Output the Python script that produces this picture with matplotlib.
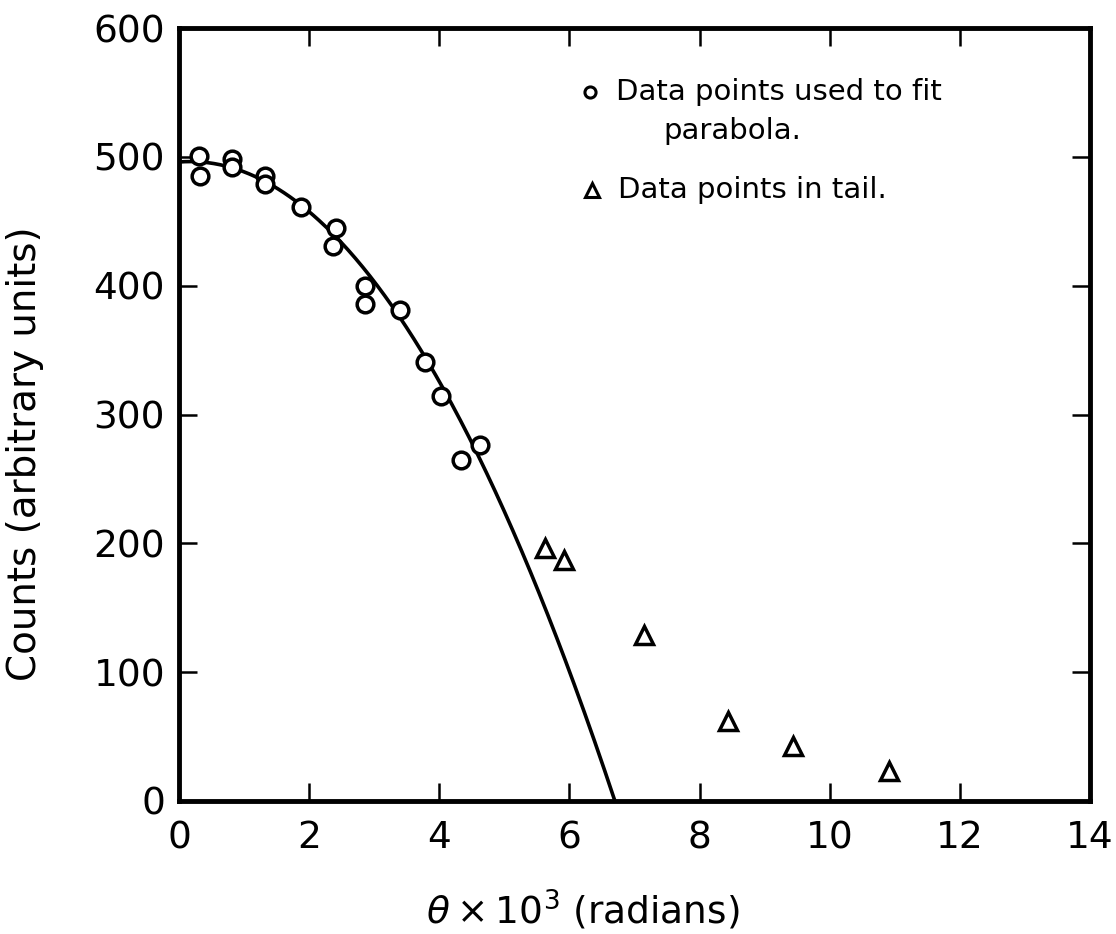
import numpy as np
import matplotlib.pyplot as plt

# points used for the parabola fit (theta x 10^3, counts)
fit_theta = [0.31, 0.33, 0.82, 0.82, 1.32, 1.32, 1.87, 2.41, 2.37, 2.86, 2.86,
             3.40, 3.78, 4.03, 4.62, 4.34]
fit_counts = [501, 485, 498, 492, 485, 479, 461, 445, 431, 400, 386,
              381, 341, 314, 276, 265]

# points in the tail
tail_theta = [5.63, 5.91, 7.14, 8.44, 9.44, 10.91]
tail_counts = [196, 187, 129, 62, 43, 23]

# fitted parabola  c2*x^2 + c1*x + c0
parabola = [-11.65, 4.0, 496.0]

fig = plt.figure(figsize=(11.16, 9.34), dpi=100)
ax = fig.add_axes([0.1604, 0.1424, 0.8163, 0.8276])

x_root = max(np.roots(parabola).real)
xs = np.linspace(0, x_root, 300)
ax.plot(xs, np.polyval(parabola, xs), color='black', lw=2.6, zorder=2)

ax.plot(fit_theta, fit_counts, 'o', ms=12, mfc='white', mec='black', mew=2.5, zorder=3)
ax.plot(tail_theta, tail_counts, '^', ms=13.5, mfc='white', mec='black', mew=2.5, zorder=3)

# key in the upper right
ax.plot(6.31, 550, 'o', ms=8, mfc='white', mec='black', mew=2.2, clip_on=False)
ax.text(6.72, 550, 'Data points used to fit', fontsize=21, va='center', ha='left')
ax.text(7.44, 520, 'parabola.', fontsize=21, va='center', ha='left')
ax.plot(6.34, 474, '^', ms=10, mfc='white', mec='black', mew=2.2, clip_on=False)
ax.text(6.75, 474, 'Data points in tail.', fontsize=21, va='center', ha='left')

ax.set_xlim(0, 14)
ax.set_ylim(0, 600)
ax.set_xticks(np.arange(0, 15, 2))
ax.set_yticks(np.arange(0, 601, 100))
ax.tick_params(direction='in', length=13, width=1.8, labelsize=27, top=True, right=True)
ax.tick_params(axis='x', pad=14)
ax.tick_params(axis='y', pad=10)
for s in ax.spines.values():
    s.set_linewidth(3.5)

ax.set_xlabel(r'$\theta \times 10^3$ (radians)', fontsize=27)
ax.xaxis.set_label_coords(0.443, -0.112)
ax.set_ylabel('Counts (arbitrary units)', fontsize=28)
ax.yaxis.set_label_coords(-0.148, 0.449)

fig.savefig('out.png', dpi=100)
